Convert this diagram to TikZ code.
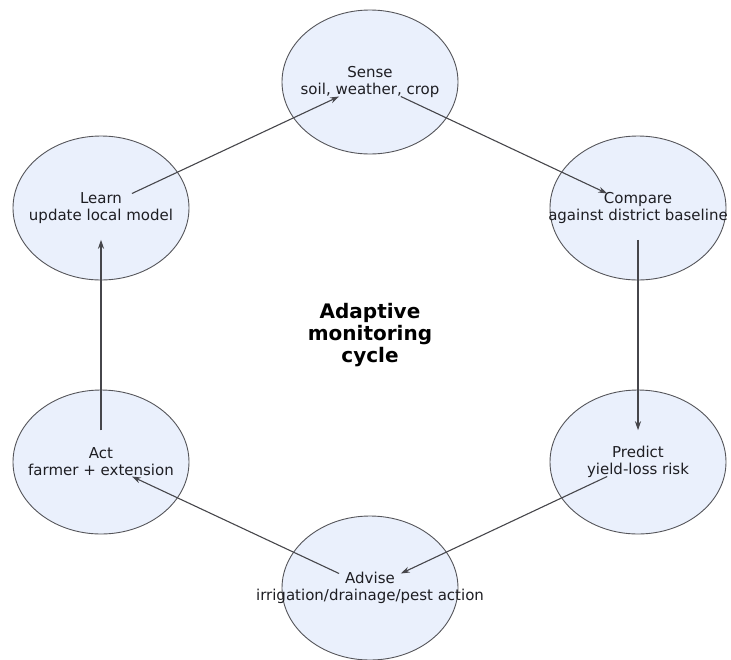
\documentclass[tikz,border=0pt]{standalone}
\usepackage{fontspec}
\setmainfont{DejaVu Sans}
\usepackage{tikz}
\usetikzlibrary{shapes.geometric, arrows.meta, calc}
\definecolor{stagefill}{RGB}{234,240,252}
\definecolor{stageedge}{RGB}{85,85,90}
\definecolor{linkgray}{RGB}{70,70,75}
\definecolor{textgray}{RGB}{30,30,35}
\tikzset{
  stage/.style={ellipse, draw=stageedge, fill=stagefill,
    minimum width=176pt, minimum height=144pt, inner sep=0pt,
    line width=0.9pt},
  stagetext/.style={align=center, inner sep=0pt, text=textgray,
    font=\fontsize{15}{17}\selectfont},
  hubtext/.style={align=center, font=\fontsize{20}{22}\selectfont\bfseries},
  link/.style={-{Stealth[length=9pt,width=6pt]}, line width=1.1pt, color=linkgray}
}
\begin{document}
\begin{tikzpicture}[x=1pt, y=-1pt]
  \useasboundingbox (0,0) rectangle (731,659);
  % Stages of the cycle
  \node[stage, label={[stagetext]center:Sense\\soil, weather, crop}] (sense) at (370,82) {};
  \node[stage, label={[stagetext]center:Compare\\against district baseline}] (compare) at (638,208) {};
  \node[stage, label={[stagetext]center:Predict\\yield-loss risk}] (predict) at (638,462) {};
  \node[stage, label={[stagetext]center:Advise\\irrigation/drainage/pest action}] (advise) at (370,588) {};
  \node[stage, label={[stagetext]center:Act\\farmer + extension}] (act) at (101,462) {};
  \node[stage, label={[stagetext]center:Learn\\update local model}] (learn) at (101,208) {};
  % Centre title
  \node[hubtext] (hub) at (370,335) {Adaptive\\monitoring\\cycle};
  % Links between stages
  \draw[link] ($(sense.center)!0.115!(compare.center)$) -- ($(sense.center)!0.885!(compare.center)$);
  \draw[link] ($(compare.center)!0.125!(predict.center)$) -- ($(compare.center)!0.875!(predict.center)$);
  \draw[link] ($(predict.center)!0.115!(advise.center)$) -- ($(predict.center)!0.885!(advise.center)$);
  \draw[link] ($(advise.center)!0.115!(act.center)$) -- ($(advise.center)!0.885!(act.center)$);
  \draw[link] ($(act.center)!0.125!(learn.center)$) -- ($(act.center)!0.875!(learn.center)$);
  \draw[link] ($(learn.center)!0.115!(sense.center)$) -- ($(learn.center)!0.885!(sense.center)$);
\end{tikzpicture}
\end{document}
